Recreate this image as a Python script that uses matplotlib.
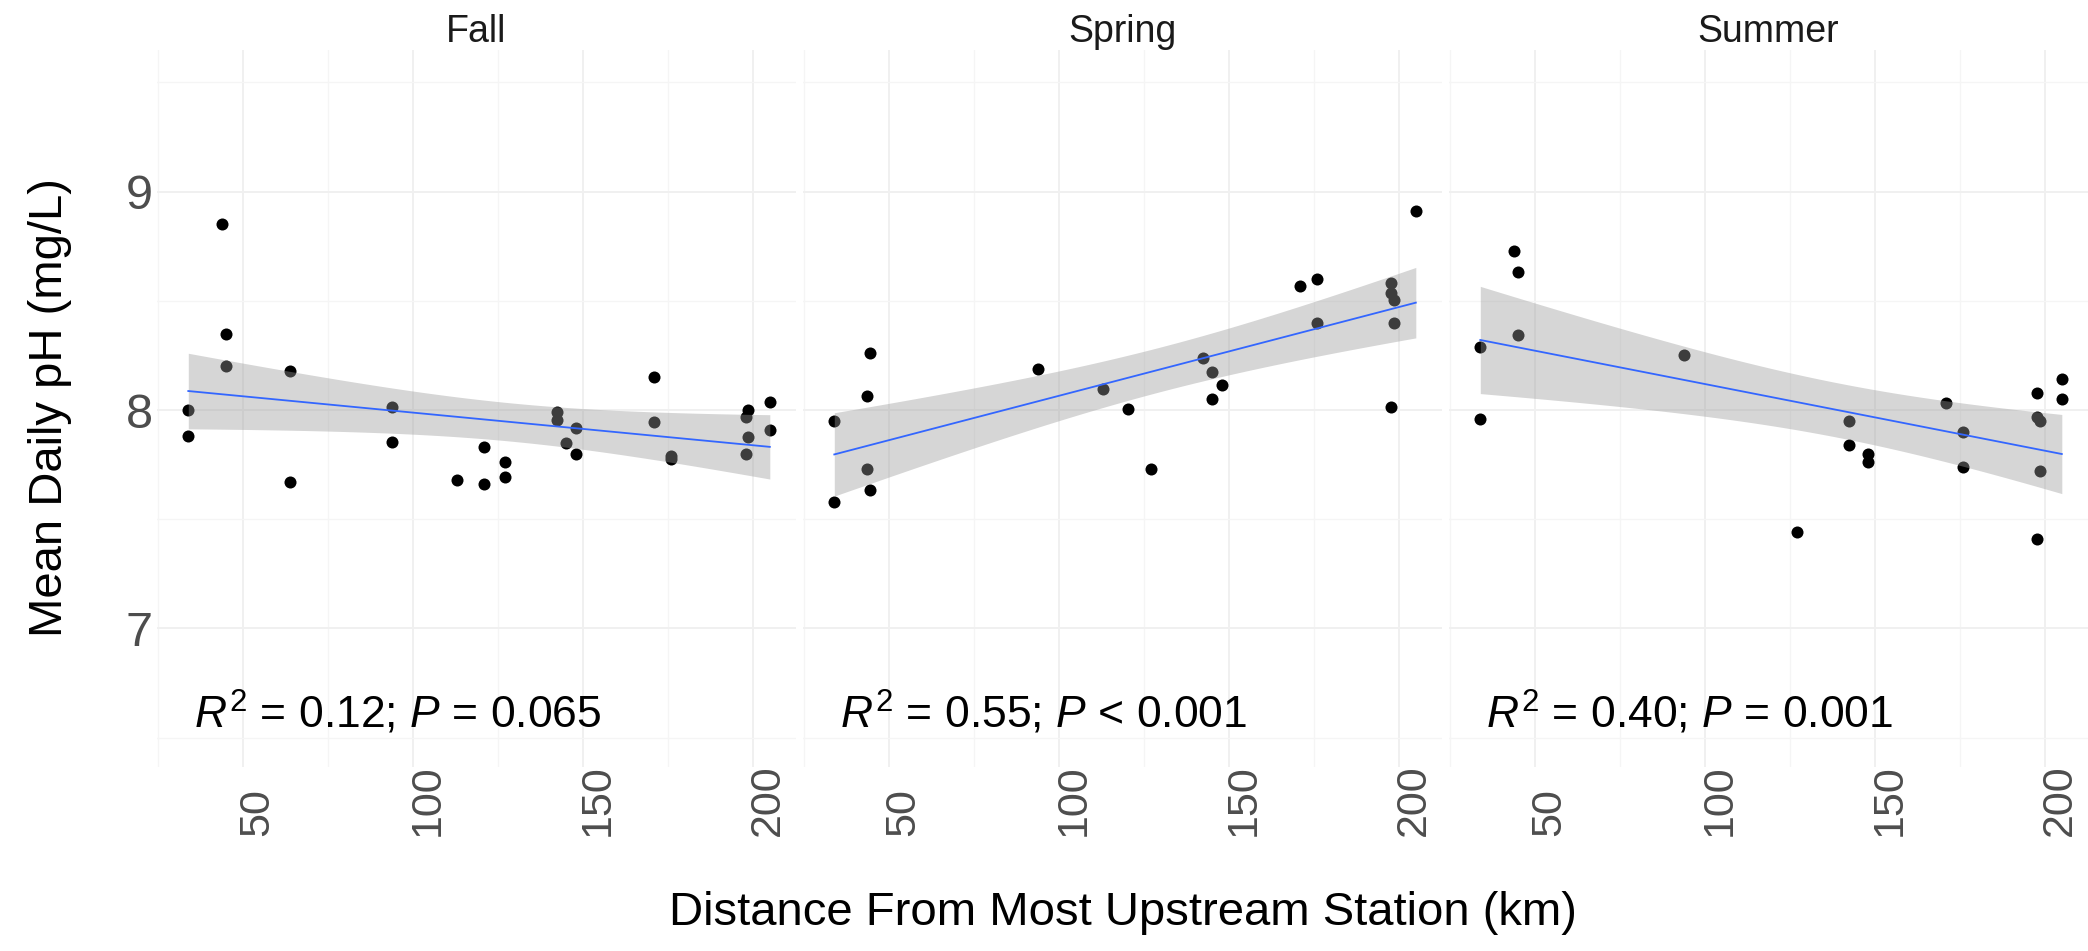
import numpy as np
import matplotlib
matplotlib.use("Agg")
import matplotlib.pyplot as plt
from matplotlib.transforms import ScaledTranslation, blended_transform_factory

plt.rcParams['font.family'] = ['Liberation Sans', 'DejaVu Sans']
plt.rcParams['mathtext.fontset'] = 'custom'
plt.rcParams['mathtext.rm'] = 'Liberation Sans'
plt.rcParams['mathtext.it'] = 'Liberation Sans:italic'

# --- data (distance km, mean daily pH) ---
seasons = ["Fall", "Spring", "Summer"]

fall_km = [34, 34, 44, 45, 45, 64, 64, 94, 94, 113, 121, 121, 127, 127, 142.5,
           142.5, 145, 148, 148, 171, 171, 176, 176, 198, 198.6, 198.6, 198, 205, 205]
fall_ph = [8.00, 7.88, 8.85, 8.35, 8.20, 8.18, 7.67, 8.015, 7.855, 7.68, 7.83, 7.66,
           7.76, 7.695, 7.99, 7.955, 7.85, 7.92, 7.80, 8.15, 7.945, 7.79, 7.775, 7.97,
           8.00, 7.875, 7.80, 8.035, 7.91]

spring_km = [34, 34, 44.5, 43.5, 43.5, 44.5, 94, 113, 120.5, 127, 142.5, 145, 148, 145,
             171, 176, 176, 197.8, 197.8, 198.6, 198.6, 197.8, 205]
spring_ph = [7.95, 7.58, 8.26, 8.065, 7.73, 7.635, 8.19, 8.095, 8.006, 7.73, 8.24, 8.175,
             8.115, 8.05, 8.57, 8.60, 8.40, 8.58, 8.534, 8.503, 8.397, 8.012, 8.91]

summer_km = [34, 34, 44, 45, 45, 94, 127, 142.5, 142.5, 148, 148, 171, 176, 176,
             197.8, 197.8, 198.6, 198.6, 197.8, 205, 205]
summer_ph = [8.287, 7.96, 8.73, 8.63, 8.343, 8.25, 7.44, 7.95, 7.84, 7.80, 7.76, 8.03,
             7.90, 7.74, 8.076, 7.97, 7.95, 7.72, 7.41, 8.14, 8.05]

stat_labels = [r"$R^2$ = 0.12; $P$ = 0.065",
               r"$R^2$ = 0.55; $P$ < 0.001",
               r"$R^2$ = 0.40; $P$ = 0.001"]

x_ticks = [50, 100, 150, 200]
y_ticks = [7, 8, 9]


def t_crit(df, z=1.959964):
    # Cornish-Fisher approximation of the 97.5% t quantile
    return (z + (z**3 + z) / (4 * df) + (5 * z**5 + 16 * z**3 + 3 * z) / (96 * df**2)
            + (3 * z**7 + 19 * z**5 + 17 * z**3 - 15 * z) / (384 * df**3))


def lm_band(x, y, n_grid=80):
    x = np.asarray(x, float); y = np.asarray(y, float)
    n = len(x)
    b1, b0 = np.polyfit(x, y, 1)
    resid = y - (b0 + b1 * x)
    s = np.sqrt(np.sum(resid**2) / (n - 2))
    xg = np.linspace(x.min(), x.max(), n_grid)
    yg = b0 + b1 * xg
    se = s * np.sqrt(1 / n + (xg - x.mean())**2 / np.sum((x - x.mean())**2))
    t = t_crit(n - 2)
    return xg, yg, yg - t * se, yg + t * se


W, H = 2088, 951
fig = plt.figure(figsize=(W / 100, H / 100), dpi=100)
fig.patch.set_facecolor("white")

data = [(fall_km, fall_ph), (spring_km, spring_ph), (summer_km, summer_ph)]
lefts = [157, 803, 1449]
pw, bot, top = 639, 767, 50

for i, (name, (xs, ys)) in enumerate(zip(seasons, data)):
    ax = fig.add_axes([lefts[i] / W, 1 - bot / H, pw / W, (bot - top) / H])
    ax.set_xlim(24.8, 212.7)
    ax.set_ylim(6.366, 9.648)
    for sp in ax.spines.values():
        sp.set_visible(False)
    ax.set_xticks(x_ticks)
    ax.set_xticks([25, 75, 125, 175], minor=True)
    ax.set_yticks(y_ticks)
    ax.set_yticks([6.5, 7.5, 8.5, 9.5], minor=True)
    ax.grid(which="major", color="#F0F0F0", lw=1.4)
    ax.grid(which="minor", color="#F5F5F5", lw=1.0)
    ax.set_axisbelow(True)
    ax.tick_params(which="both", length=0)

    ax.scatter(xs, ys, s=75, color="black", lw=0, zorder=2)
    xg, yg, lo, hi = lm_band(xs, ys)
    ax.fill_between(xg, lo, hi, color="#999999", alpha=0.4, lw=0, zorder=3)
    ax.plot(xg, yg, color="#3366FF", lw=1.3, zorder=4)

    ax.set_xticklabels([str(v) for v in x_ticks], rotation=90, fontsize=31,
                       color="#4D4D4D", va="bottom")
    ax.tick_params(axis="x", pad=50)
    for lab in ax.get_xticklabels():
        lab.set_transform(lab.get_transform() + ScaledTranslation(0.15, 0, fig.dpi_scale_trans))
    if i == 0:
        ax.set_yticklabels([str(v) for v in y_ticks], fontsize=35, color="#4D4D4D")
        ax.tick_params(axis="y", pad=3)
    else:
        ax.set_yticklabels([])

    ax.set_title(name, fontsize=27, color="#1A1A1A", pad=6)
    tr = blended_transform_factory(ax.transAxes, ax.transData)
    ax.text(0.058, 6.545, stat_labels[i], transform=tr, fontsize=32,
            va="baseline", ha="left", color="black")

fig.text(50 / W, 1 - 408 / H, "Mean Daily pH (mg/L)", rotation=90,
         ha="center", va="center", fontsize=34)
fig.text((157 + 2088) / 2 / W, 1 - 913 / H, "Distance From Most Upstream Station (km)",
         ha="center", va="center", fontsize=34)

fig.savefig("out.png", dpi=100, facecolor="white")
